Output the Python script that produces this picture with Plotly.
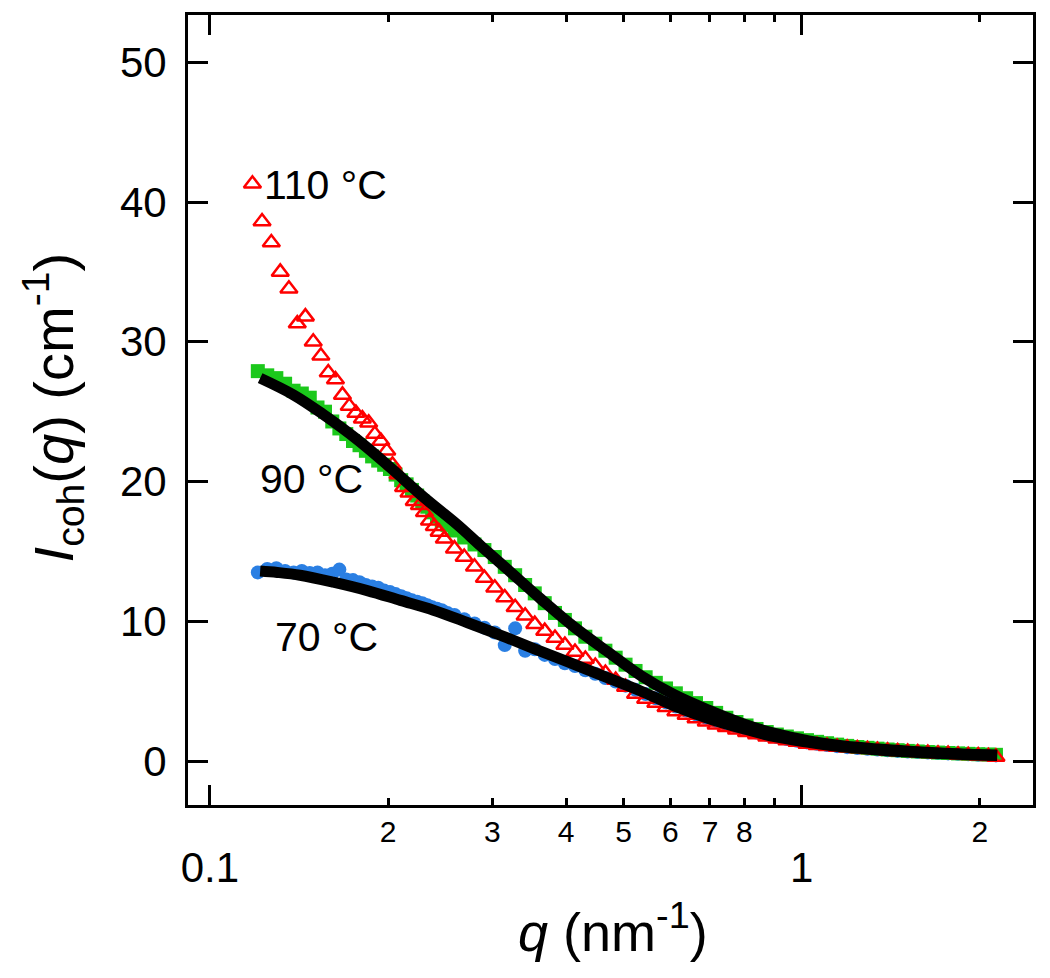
import plotly.graph_objects as go
import math

# ---------------- data ----------------
q_110 = [0.118, 0.1225, 0.127, 0.1315, 0.136, 0.1405, 0.145, 0.1495, 0.154, 0.1585,
         0.163, 0.1675, 0.172, 0.1765, 0.181, 0.1855, 0.190, 0.1945, 0.199, 0.2035,
         0.208, 0.2125, 0.217, 0.2215, 0.226, 0.2305, 0.235, 0.2395, 0.244, 0.249,
         0.259, 0.269, 0.280, 0.291, 0.303, 0.315, 0.328, 0.341, 0.354, 0.368,
         0.383, 0.398, 0.414, 0.431, 0.448, 0.466, 0.485, 0.504, 0.524, 0.545,
         0.567, 0.590, 0.613, 0.638, 0.663, 0.690, 0.717, 0.746, 0.776, 0.807,
         0.839, 0.873, 0.908, 0.944, 0.982, 1.021, 1.062, 1.104, 1.148, 1.194,
         1.242, 1.292, 1.343, 1.397, 1.453, 1.511, 1.571, 1.634, 1.700, 1.768,
         1.838, 1.912, 1.988, 2.068, 2.13]
I_110 = [41.3, 38.6, 37.1, 35.0, 33.8, 31.3, 31.8, 30.0, 29.0, 27.8,
         27.3, 26.2, 25.4, 24.9, 24.5, 24.2, 23.4, 22.9, 22.2, 21.2,
         20.5, 19.6, 19.2, 18.6, 18.3, 17.8, 17.2, 16.8, 16.4, 15.9,
         15.2, 14.6, 13.9, 13.1, 12.4, 11.7, 11.0, 10.4, 9.8, 9.3,
         8.8, 8.3, 7.8, 7.3, 6.8, 6.3, 5.8, 5.3, 4.8, 4.45,
         4.15, 3.85, 3.55, 3.3, 3.05, 2.82, 2.6, 2.42, 2.24, 2.06,
         1.9, 1.75, 1.6, 1.48, 1.36, 1.22, 1.14, 1.07, 1.01, 0.96,
         0.9, 0.85, 0.79, 0.74, 0.69, 0.65, 0.61, 0.57, 0.53, 0.5,
         0.46, 0.42, 0.39, 0.34, 0.3]

q_90_70 = [0.1205, 0.125, 0.1295, 0.134, 0.1385, 0.143, 0.1475, 0.152, 0.1565, 0.161,
           0.1655, 0.170, 0.1745, 0.179, 0.1835, 0.188, 0.1925, 0.197, 0.2015, 0.206,
           0.2105, 0.215, 0.2195, 0.224, 0.2285, 0.233, 0.2375, 0.242, 0.2465, 0.252,
           0.259, 0.269, 0.280, 0.291, 0.303, 0.315, 0.328, 0.341, 0.354, 0.368,
           0.383, 0.398, 0.414, 0.431, 0.448, 0.466, 0.485, 0.504, 0.524, 0.545,
           0.567, 0.590, 0.613, 0.638, 0.663, 0.690, 0.717, 0.746, 0.776, 0.807,
           0.839, 0.873, 0.908, 0.944, 0.982, 1.021, 1.062, 1.104, 1.148, 1.194,
           1.242, 1.292, 1.343, 1.397, 1.453, 1.511, 1.571, 1.634, 1.700, 1.768,
           1.838, 1.912, 1.988, 2.068, 2.13]
I_90 = [27.9, 27.6, 27.4, 27.0, 26.5, 26.3, 26.0, 25.3, 25.0, 24.3,
        23.8, 23.4, 22.9, 22.6, 22.2, 21.8, 21.5, 21.2, 20.9, 20.5,
        20.1, 19.8, 19.4, 19.0, 18.6, 18.2, 17.8, 17.5, 17.2, 16.9,
        16.5, 16.0, 15.5, 15.1, 14.6, 13.9, 13.3, 12.6, 12.0, 11.3,
        10.6, 10.1, 9.5, 8.9, 8.4, 7.9, 7.4, 6.9, 6.45, 6.0,
        5.6, 5.2, 4.85, 4.5, 4.15, 3.8, 3.45, 3.1, 2.8, 2.55,
        2.3, 2.08, 1.9, 1.76, 1.63, 1.5, 1.38, 1.28, 1.18, 1.09,
        1.01, 0.95, 0.89, 0.83, 0.78, 0.73, 0.69, 0.65, 0.61, 0.58,
        0.55, 0.52, 0.49, 0.47, 0.45]
I_70 = [13.5, 13.75, 13.8, 13.6, 13.5, 13.6, 13.45, 13.5, 13.3, 13.4,
        13.7, 13.0, 12.95, 12.8, 12.6, 12.5, 12.4, 12.2, 12.1, 11.95,
        11.8, 11.65, 11.5, 11.4, 11.3, 11.15, 11.0, 10.9, 10.8, 10.6,
        10.45, 10.15, 9.85, 9.55, 9.2, 8.3, 9.5, 7.9, 8.0, 7.6,
        7.3, 7.0, 6.8, 6.5, 6.25, 5.95, 5.7, 5.4, 5.1, 4.8,
        4.5, 4.2, 3.9, 3.62, 3.35, 3.1, 2.88, 2.65, 2.45, 2.25,
        2.05, 1.88, 1.72, 1.58, 1.45, 1.34, 1.24, 1.15, 1.07, 1.0,
        0.94, 0.88, 0.83, 0.78, 0.73, 0.69, 0.65, 0.61, 0.58, 0.55,
        0.52, 0.49, 0.46, 0.43, 0.41]

q_fit90 = [0.1216, 0.1385, 0.1555, 0.1775, 0.2019, 0.2296, 0.2622, 0.2869, 0.3187, 0.3625,
           0.4124, 0.471, 0.5357, 0.609, 0.696, 0.791, 0.900, 1.028, 1.169, 1.35,
           1.519, 1.75, 1.965, 2.14]
I_fit90 = [27.4, 26.2, 24.8, 23.0, 21.0, 18.9, 16.9, 15.4, 13.7, 11.6,
           9.6, 7.8, 6.1, 4.75, 3.65, 2.72, 1.98, 1.45, 1.1, 0.86,
           0.71, 0.57, 0.48, 0.43]

q_fit70 = [0.1216, 0.130, 0.142, 0.1616, 0.1845, 0.2099, 0.2387, 0.2727, 0.3101, 0.3527,
           0.4029, 0.4581, 0.5357, 0.609, 0.696, 0.791, 0.900, 1.028, 1.169, 1.35,
           1.519, 1.75, 1.965, 2.14]
I_fit70 = [13.6, 13.5, 13.3, 12.8, 12.2, 11.5, 10.8, 9.9, 9.0, 8.05,
           7.1, 6.15, 5.0, 3.95, 3.05, 2.35, 1.75, 1.34, 1.02, 0.8,
           0.65, 0.52, 0.44, 0.4]

labels = ["110 °C", "90 °C", "70 °C"]
label_pos = [(0.1225, 41.2), (0.1205, 20.2), (0.1278, 8.9)]

major_ticks = [0.1, 1]
major_text = ["0.1", "1"]
minor_ticks = [0.2, 0.3, 0.4, 0.5, 0.6, 0.7, 0.8, 0.9, 2]
minor_labels_at = [0.2, 0.3, 0.4, 0.5, 0.6, 0.7, 0.8, 2]
minor_text = ["2", "3", "4", "5", "6", "7", "8", "2"]
y_ticks = [0, 10, 20, 30, 40, 50]

# ---------------- figure ----------------
FONT = "Liberation Sans, Arial, sans-serif"
fig = go.Figure()

fig.add_trace(go.Scatter(x=q_90_70, y=I_70, mode="markers",
                         marker=dict(symbol="circle", size=14, color="#2a7fe3", line=dict(width=0)),
                         showlegend=False))
fig.add_trace(go.Scatter(x=q_90_70, y=I_90, mode="markers",
                         marker=dict(symbol="square", size=14, color="#1bc81b", line=dict(width=0)),
                         showlegend=False))
fig.add_trace(go.Scatter(x=q_110, y=I_110, mode="markers",
                         marker=dict(symbol="triangle-up-open", size=15, color="#ff0000",
                                     line=dict(width=2.5, color="#ff0000")),
                         showlegend=False))
fig.add_trace(go.Scatter(x=q_fit70, y=I_fit70, mode="lines",
                         line=dict(color="black", width=11, shape="spline"), showlegend=False))
fig.add_trace(go.Scatter(x=q_fit90, y=I_fit90, mode="lines",
                         line=dict(color="black", width=11, shape="spline"), showlegend=False))

# invisible trace on the second x axis so its labels are drawn
fig.add_trace(go.Scatter(x=[minor_labels_at[0]], y=[None], xaxis="x2", yaxis="y",
                         mode="markers", showlegend=False, hoverinfo="skip"))

x_range = [-1.037, 0.391]

fig.update_layout(
    width=1050, height=978,
    margin=dict(l=180, r=25, t=4, b=181),
    paper_bgcolor="white", plot_bgcolor="white",
    font=dict(family=FONT, color="black"),
    xaxis=dict(type="log", range=x_range, showgrid=False, zeroline=False,
               showline=True, linewidth=3, linecolor="black", mirror="ticks",
               tickmode="array", tickvals=major_ticks, ticktext=major_text,
               ticks="inside", ticklen=20, tickwidth=3, tickcolor="black",
               tickfont=dict(size=42, family=FONT, color="black"),
               ticklabelstandoff=24,
               minor=dict(tickmode="array", tickvals=minor_ticks, ticks="inside",
                          ticklen=7, tickwidth=3, tickcolor="black", showgrid=False)),
    xaxis2=dict(type="log", range=x_range, overlaying="x", anchor="y", side="bottom",
                showgrid=False, zeroline=False, showline=False,
                tickmode="array", tickvals=minor_labels_at, ticktext=minor_text,
                ticks="", tickfont=dict(size=30, family=FONT, color="black"),
                ticklabelstandoff=6),
    yaxis=dict(range=[-3.14, 53.38], showgrid=False, zeroline=False,
               showline=True, linewidth=3, linecolor="black", mirror="ticks",
               tickmode="array", tickvals=y_ticks,
               ticks="inside", ticklen=20, tickwidth=3, tickcolor="black",
               tickfont=dict(size=42, family=FONT, color="black"),
               ticklabelstandoff=10),
)

annotations = []
for txt, (qx, iy) in zip(labels, label_pos):
    annotations.append(dict(x=math.log10(qx), y=iy, xref="x", yref="y", text=txt,
                            showarrow=False, xanchor="left", yanchor="middle",
                            font=dict(size=41, family=FONT, color="black")))
annotations.append(dict(x=0.503, y=-0.156, xref="paper", yref="paper",
                        text="<i>q</i> (nm<sup>-1</sup>)", showarrow=False,
                        xanchor="center", yanchor="middle",
                        font=dict(size=54, family=FONT, color="black")))
annotations.append(dict(x=-0.16, y=0.503, xref="paper", yref="paper",
                        text="<i>I</i><sub>coh</sub>(<i>q</i>) (cm<sup>-1</sup>)",
                        showarrow=False, textangle=-90,
                        xanchor="center", yanchor="middle",
                        font=dict(size=56, family=FONT, color="black")))
fig.update_layout(annotations=annotations)

fig.write_html("out.html")
